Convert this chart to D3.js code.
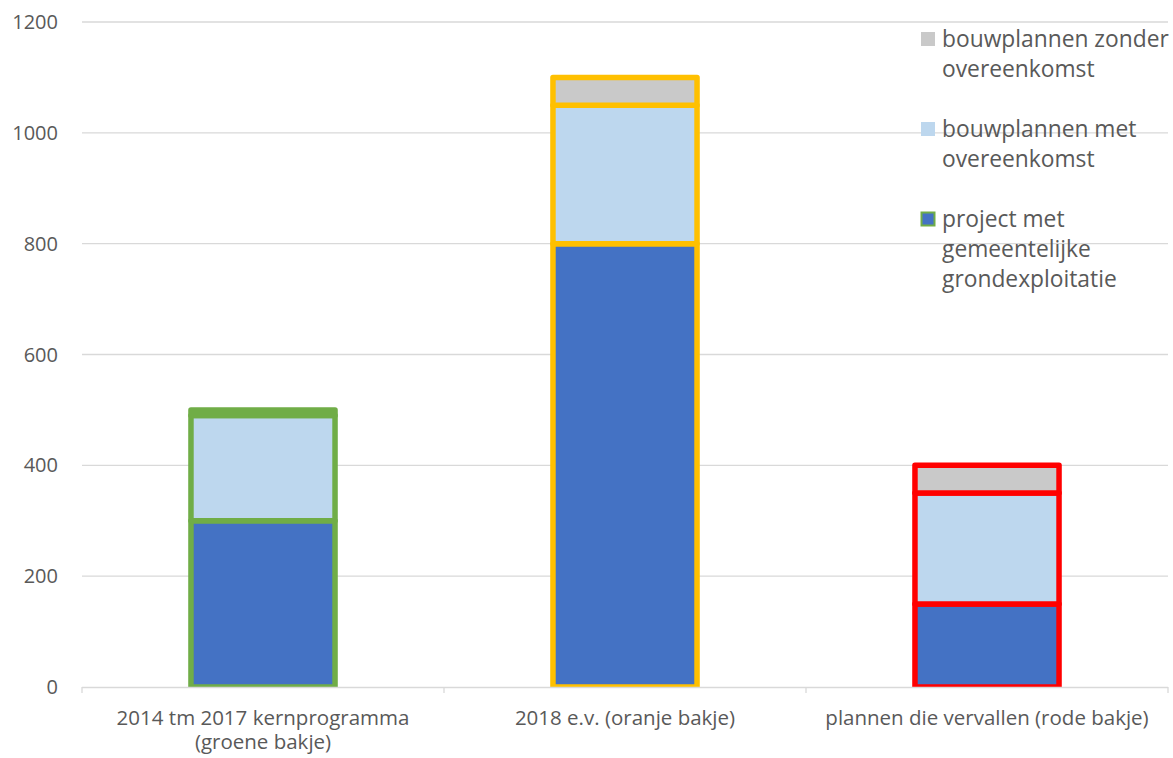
<!DOCTYPE html>
<html>
<head>
<meta charset="utf-8">
<script src="https://cdn.jsdelivr.net/npm/d3@7"></script>
<style>
  html, body { margin: 0; padding: 0; background: #fff; }
  svg { display: block; font-family: "Open Sans", sans-serif; }
</style>
</head>
<body>
<svg id="chart" width="1173" height="758"></svg>
<script>
// Categories (each label may span two lines)
const categories = [
  ["2014 tm 2017 kernprogramma", "(groene bakje)"],
  ["2018 e.v. (oranje bakje)"],
  ["plannen die vervallen (rode bakje)"]
];
const categoryKeys = ["groen", "oranje", "rood"];

// Series values, stacked bottom to top
const seriesNames = [
  "project met gemeentelijke grondexploitatie",
  "bouwplannen met overeenkomst",
  "bouwplannen zonder overeenkomst"
];
const projectGrex = [300, 800, 150];
const metOvereenkomst = [190, 250, 200];
const zonderOvereenkomst = [10, 50, 50];

const yTicks = [0, 200, 400, 600, 800, 1000, 1200];

// Legend lines (top to bottom)
const legendLines = [
  ["bouwplannen zonder", "overeenkomst"],
  ["bouwplannen met", "overeenkomst"],
  ["project met", "gemeentelijke", "grondexploitatie"]
];

const fillColors = ["#4472c4", "#bdd7ee", "#c9c9c9"];
const borderColors = ["#70ad47", "#ffc000", "#ff0000"];

const svg = d3.select("#chart");
const margin = { left: 82, right: 5, top: 22, bottom: 71 };
const width = 1173, height = 758;
const plotBottom = height - margin.bottom; // 687

const x = d3.scaleBand()
  .domain(categoryKeys)
  .range([margin.left, width - margin.right])
  .paddingInner(0.602)
  .paddingOuter(0.301);

const y = d3.scaleLinear()
  .domain([0, 1200])
  .range([plotBottom, margin.top]);

// Gridlines
svg.append("g")
  .selectAll("line")
  .data(yTicks.filter(d => d > 0))
  .join("line")
  .attr("x1", margin.left)
  .attr("x2", width - margin.right)
  .attr("y1", d => y(d))
  .attr("y2", d => y(d))
  .attr("stroke", "#d9d9d9")
  .attr("stroke-width", 1.3);

// Y tick labels
svg.append("g")
  .selectAll("text")
  .data(yTicks)
  .join("text")
  .attr("x", 58)
  .attr("y", d => y(d))
  .attr("dy", "0.35em")
  .attr("text-anchor", "end")
  .attr("font-size", 20)
  .attr("fill", "#595959")
  .text(d => d);

// Stacked data
const rows = categoryKeys.map((k, i) => ({
  key: k,
  s0: projectGrex[i],
  s1: metOvereenkomst[i],
  s2: zonderOvereenkomst[i]
}));
const stack = d3.stack().keys(["s0", "s1", "s2"]);
const stacked = stack(rows);

svg.append("clipPath").attr("id", "plotclip")
  .append("rect")
  .attr("x", 0).attr("y", 0)
  .attr("width", width).attr("height", plotBottom);

const barsG = svg.append("g").attr("clip-path", "url(#plotclip)");
stacked.forEach((layer, li) => {
  barsG.append("g")
    .selectAll("rect")
    .data(layer)
    .join("rect")
    .attr("x", d => x(d.data.key))
    .attr("width", x.bandwidth())
    .attr("y", d => y(d[1]))
    .attr("height", d => y(d[0]) - y(d[1]))
    .attr("fill", fillColors[li])
    .attr("stroke", (d, i) => borderColors[i])
    .attr("stroke-width", 5.5)
    .attr("stroke-linejoin", "round");
});

// X axis line and ticks
const axisG = svg.append("g");
axisG.append("line")
  .attr("x1", margin.left).attr("x2", width - margin.right)
  .attr("y1", plotBottom + 0.5).attr("y2", plotBottom + 0.5)
  .attr("stroke", "#d9d9d9").attr("stroke-width", 1.3);
const step = x.step();
const tickXs = d3.range(categoryKeys.length + 1).map(i => margin.left + i * step);
axisG.selectAll("line.tick")
  .data(tickXs)
  .join("line")
  .attr("class", "tick")
  .attr("x1", d => d).attr("x2", d => d)
  .attr("y1", plotBottom).attr("y2", plotBottom + 6)
  .attr("stroke", "#d9d9d9").attr("stroke-width", 1.3);

// Category labels
const catG = svg.append("g");
categoryKeys.forEach((k, i) => {
  const cx = x(k) + x.bandwidth() / 2;
  const t = catG.append("text")
    .attr("text-anchor", "middle")
    .attr("font-size", 20.5)
    .attr("fill", "#595959");
  categories[i].forEach((line, j) => {
    t.append("tspan")
      .attr("x", cx)
      .attr("y", 725 + j * 24)
      .text(line);
  });
});

// Legend
const legendG = svg.append("g");
const legendFills = [fillColors[2], fillColors[1], fillColors[0]];
const legendStrokes = [null, null, borderColors[0]];
const legendTop = [47, 137, 227];
legendLines.forEach((lines, i) => {
  legendG.append("rect")
    .attr("x", legendStrokes[i] ? 921.5 : 921)
    .attr("y", legendTop[i] - (legendStrokes[i] ? 14.5 : 15))
    .attr("width", legendStrokes[i] ? 13 : 14)
    .attr("height", legendStrokes[i] ? 13 : 14)
    .attr("fill", legendFills[i])
    .attr("stroke", legendStrokes[i] || "none")
    .attr("stroke-width", 2);
  const t = legendG.append("text")
    .attr("font-size", 22.8)
    .attr("fill", "#595959");
  lines.forEach((line, j) => {
    t.append("tspan")
      .attr("x", 942)
      .attr("y", legendTop[i] + j * 30)
      .text(line);
  });
});
</script>
</body>
</html>
